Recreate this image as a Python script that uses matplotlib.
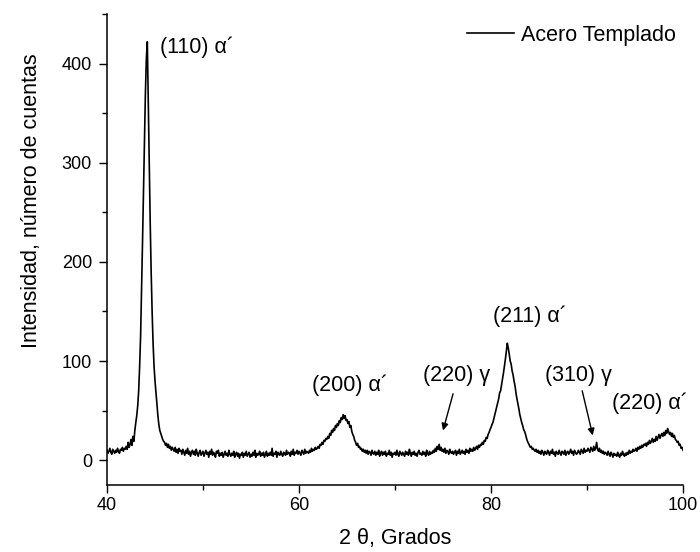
import numpy as np
import matplotlib
matplotlib.use("Agg")
import matplotlib.pyplot as plt
from matplotlib.ticker import MultipleLocator

# 2-theta grid (degrees), 0.1 deg step
two_theta = np.round(np.arange(40.0, 100.0001, 0.1), 1)

# Intensity, one row per degree (40.0 .. 99.9), then 100.0
counts = [
    10, 7, 9, 12, 8, 6, 11, 9, 7, 10,
    8, 12, 9, 7, 11, 10, 13, 9, 12, 11,
    14, 11, 18, 13, 16, 21, 15, 24, 19, 30,
    38, 45, 55, 70, 95, 125, 170, 220, 270, 318,
    370, 405, 422, 360, 300, 240, 190, 150, 118, 95,
    80, 68, 55, 45, 36, 30, 27, 24, 21, 19,
    18, 15, 17, 13, 16, 12, 14, 10, 13, 11,
    9, 13, 8, 11, 7, 12, 9, 10, 6, 11,
    8, 5, 10, 7, 12, 6, 9, 4, 8, 10,
    6, 9, 5, 11, 7, 4, 8, 10, 5, 7,
    9, 4, 7, 10, 6, 8, 3, 9, 6, 11,
    5, 8, 6, 3, 9, 7, 10, 4, 7, 5,
    8, 3, 6, 9, 5, 7, 4, 10, 6, 4,
    7, 5, 9, 3, 6, 8, 4, 7, 2, 6,
    5, 8, 3, 7, 5, 9, 4, 6, 8, 3,
    6, 4, 8, 5, 10, 3, 7, 5, 6, 9,
    4, 7, 5, 8, 3, 6, 9, 4, 7, 5,
    8, 5, 12, 4, 7, 6, 9, 3, 8, 6,
    5, 9, 6, 4, 8, 7, 5, 10, 6, 8,
    7, 4, 9, 6, 11, 5, 8, 7, 10, 6,
    9, 7, 5, 10, 8, 6, 11, 7, 9, 8,
    7, 10, 8, 12, 9, 11, 10, 13, 11, 12,
    14, 12, 16, 15, 18, 16, 20, 19, 22, 21,
    24, 22, 27, 25, 30, 28, 32, 30, 35, 33,
    37, 35, 40, 38, 43, 41, 46, 42, 45, 40,
    41, 37, 39, 33, 35, 29, 26, 24, 20, 18,
    15, 17, 13, 14, 11, 12, 9, 11, 8, 10,
    7, 10, 6, 9, 8, 5, 10, 7, 6, 9,
    5, 8, 6, 10, 4, 7, 9, 5, 8, 6,
    9, 4, 7, 6, 10, 5, 8, 3, 7, 6,
    8, 5, 10, 6, 4, 9, 7, 5, 8, 6,
    4, 9, 6, 8, 5, 11, 7, 4, 8, 6,
    9, 5, 7, 4, 8, 10, 6, 7, 5, 9,
    6, 8, 4, 10, 7, 5, 9, 6, 8, 7,
    10, 8, 12, 9, 14, 11, 16, 10, 13, 9,
    11, 8, 12, 7, 10, 9, 6, 11, 8, 7,
    9, 6, 8, 10, 5, 9, 7, 11, 6, 8,
    10, 7, 9, 6, 11, 8, 10, 7, 12, 9,
    11, 9, 13, 10, 12, 14, 11, 15, 13, 16,
    15, 18, 16, 20, 19, 23, 22, 26, 28, 31,
    33, 36, 38, 42, 46, 50, 54, 58, 62, 68,
    70, 76, 82, 88, 95, 102, 110, 118, 113, 107,
    100, 97, 90, 86, 80, 75, 68, 62, 57, 52,
    46, 42, 38, 35, 31, 29, 26, 22, 19, 17,
    15, 13, 14, 11, 12, 10, 9, 11, 8, 10,
    7, 9, 6, 10, 8, 5, 9, 7, 6, 10,
    8, 5, 9, 7, 11, 6, 8, 4, 9, 7,
    6, 10, 7, 5, 9, 8, 6, 10, 5, 8,
    9, 6, 8, 11, 7, 9, 5, 10, 8, 6,
    7, 10, 8, 6, 11, 9, 7, 12, 8, 10,
    9, 12, 10, 8, 13, 11, 9, 14, 10, 12,
    18, 11, 9, 12, 8, 10, 7, 9, 6, 8,
    7, 5, 9, 6, 4, 8, 6, 3, 7, 5,
    6, 4, 8, 5, 3, 7, 5, 9, 6, 4,
    7, 5, 8, 6, 10, 7, 9, 8, 11, 9,
    10, 12, 9, 13, 11, 14, 12, 15, 13, 16,
    15, 17, 14, 18, 16, 20, 17, 19, 22, 18,
    21, 19, 24, 20, 23, 26, 22, 25, 27, 24,
    28, 25, 30, 27, 32, 29, 26, 28, 24, 27,
    23, 25, 21, 20, 18, 19, 15, 16, 12, 13,
    10,
]

series_label = "Acero Templado"
x_label = "2 \u03b8, Grados"
y_label = "Intensidad, n\u00famero de cuentas"

# Peak labels: text, (x, y) of text left/center
peak_labels = ["(110) \u03b1\u00b4", "(200) \u03b1\u00b4", "(220) \u03b3",
               "(211) \u03b1\u00b4", "(310) \u03b3", "(220) \u03b1\u00b4"]
peak_label_x = [45.5, 61.35, 72.9, 80.2, 85.6, 92.6]
peak_label_y = [416, 76, 85, 145, 85, 57]

# Arrows for the gamma reflections: (start x, start y) -> (end x, end y)
arrow_start_x = [76.05, 89.5]
arrow_start_y = [67, 70]
arrow_end_x = [75.0, 90.6]
arrow_end_y = [30, 25]

plt.rcParams['font.family'] = ['Liberation Sans', 'DejaVu Sans']

TXT = 15.5

fig = plt.figure(figsize=(7.0, 5.52), dpi=100)
ax = fig.add_axes([107/700, 1 - 485/552, (683-107)/700, (485-14)/552])

ax.plot(two_theta, counts, color='black', lw=1.2, label=series_label)

ax.set_xlim(40, 100)
ax.set_ylim(-25, 450)
ax.xaxis.set_major_locator(MultipleLocator(20))
ax.xaxis.set_minor_locator(MultipleLocator(10))
ax.yaxis.set_major_locator(MultipleLocator(100))
ax.yaxis.set_minor_locator(MultipleLocator(50))

for s in ['top', 'right']:
    ax.spines[s].set_visible(False)
for s in ['left', 'bottom']:
    ax.spines[s].set_linewidth(1.1)

ax.tick_params(which='major', direction='out', length=5.8, width=1.0, labelsize=13)
ax.tick_params(which='minor', direction='out', length=3.6, width=1.0)
ax.tick_params(axis='y', which='major', pad=5)
ax.tick_params(axis='x', which='major', pad=3)

ax.set_xlabel(x_label, fontsize=TXT, labelpad=10)
ax.set_ylabel(y_label, fontsize=TXT)
ax.yaxis.set_label_coords(-0.113, 0.603)

for t, tx, ty in zip(peak_labels, peak_label_x, peak_label_y):
    ax.text(tx, ty, t, fontsize=TXT, ha='left', va='center')

for sx, sy, ex, ey in zip(arrow_start_x, arrow_start_y, arrow_end_x, arrow_end_y):
    ax.annotate('', xy=(ex, ey), xytext=(sx, sy),
                arrowprops=dict(arrowstyle='-|>', color='black', lw=1.0,
                                mutation_scale=10, shrinkA=0, shrinkB=0))

ax.legend(loc='upper right', bbox_to_anchor=(0.988, 0.977), frameon=False,
          fontsize=TXT, handlelength=2.2, handletextpad=0.33,
          borderaxespad=0, borderpad=0)

fig.savefig('out.png', dpi=100)
